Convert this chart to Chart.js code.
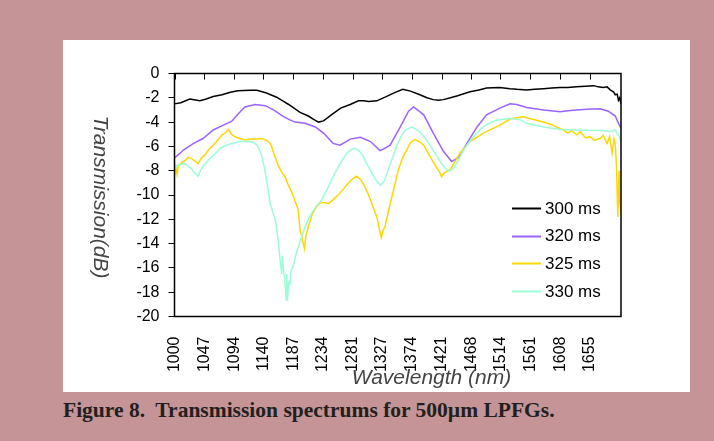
<!DOCTYPE html>
<html>
<head>
<meta charset="utf-8">
<script src="https://cdn.jsdelivr.net/npm/chart.js@4.4.1/dist/chart.umd.min.js"></script>
<style>
  html, body { margin: 0; padding: 0; }
  body { width: 714px; height: 441px; background: #c49496; position: relative; overflow: hidden; }
  #panel { position: absolute; left: 63px; top: 40px; width: 627px; height: 352px; background: #fff; }
  #caption { position: absolute; left: 63px; top: 398px; font: bold 21.5px "Liberation Serif", "Times New Roman", serif; color: #231f20; white-space: pre; }
</style>
</head>
<body>
<div id="panel"><canvas id="chart" width="627" height="352"></canvas></div>
<div id="caption">Figure 8.  Transmission spectrums for 500µm LPFGs.</div>
<script>
// Transmission spectra, 500um LPFG

const seriesLabels = ['300 ms', '320 ms', '325 ms', '330 ms'];
const seriesColors = ['#000000', '#9b63ff', '#ffd600', '#9bfcd6'];

const xTicks = [1000, 1047, 1094, 1140, 1187, 1234, 1281, 1327, 1374, 1421, 1468, 1514, 1561, 1608, 1655];

// 300 ms
const w300 = [1000,1010,1024,1040,1050,1061,1075,1088,1100,1109,1120,1130,1145,1161,1172,1180,1198,1211,1220,1227,
  1235,1250,1262,1277,1290,1298,1306,1319,1332,1348,1360,1372,1387,1398,1408,1416,1424,1435,1445,1466,
  1480,1492,1513,1529,1540,1555,1568,1582,1595,1608,1620,1634,1648,1661,1668,1676,1682,1687,1692,1695,
  1698,1700,1702,1704];
const t300 = [-2.5,-2.4,-2.1,-2.25,-2.1,-1.9,-1.75,-1.55,-1.42,-1.4,-1.38,-1.38,-1.6,-1.95,-2.3,-2.55,-3.2,-3.5,-3.8,-4.0,
  -3.9,-3.3,-2.85,-2.55,-2.25,-2.25,-2.3,-2.25,-1.95,-1.55,-1.3,-1.45,-1.75,-2.0,-2.15,-2.2,-2.15,-2.0,-1.85,-1.5,
  -1.35,-1.2,-1.15,-1.25,-1.3,-1.35,-1.3,-1.25,-1.2,-1.15,-1.15,-1.1,-1.05,-1.0,-1.1,-1.15,-1.1,-1.35,-1.5,-1.75,
  -1.7,-2.2,-2.0,-2.5];

// 320 ms
const w320 = [1000,1008,1014,1030,1045,1061,1077,1090,1101,1111,1127,1143,1156,1172,1181,1190,1206,1222,1235,1250,
  1261,1277,1293,1309,1318,1324,1330,1340,1356,1369,1377,1393,1408,1424,1437,1448,1461,1477,1492,1513,
  1529,1540,1555,1582,1608,1624,1650,1671,1684,1695,1700,1704];
const t320 = [-6.95,-6.6,-6.3,-5.75,-5.35,-4.65,-4.25,-3.95,-3.3,-2.75,-2.55,-2.65,-3.0,-3.55,-3.8,-4.0,-4.1,-4.4,-4.9,-5.75,
  -5.9,-5.4,-5.25,-5.6,-6.05,-6.35,-6.2,-5.9,-4.4,-3.1,-2.75,-3.4,-4.9,-6.4,-7.25,-6.9,-5.75,-4.4,-3.4,-2.85,
  -2.5,-2.55,-2.8,-3.0,-3.15,-3.05,-2.95,-2.9,-3.1,-3.5,-4.1,-4.5];

// 325 ms
const w325 = [1000,1002,1004,1006,1012,1017,1022,1027,1032,1037,1042,1048,1055,1061,1068,1075,1080,1085,1090,1095,
  1103,1111,1120,1130,1138,1145,1150,1153,1158,1164,1170,1174,1178,1185,1190,1195,1198,1201,1203,1205,
  1207,1211,1217,1224,1232,1243,1250,1258,1265,1271,1280,1287,1293,1300,1306,1311,1319,1323,1326,1329,
  1332,1337,1343,1348,1353,1360,1366,1372,1379,1386,1393,1403,1414,1418,1421,1425,1435,1443,1450,1466,
  1487,1513,1529,1540,1550,1560,1571,1592,1613,1620,1626,1634,1640,1648,1655,1662,1671,1676,1682,1686,
  1690,1693,1695,1697,1699,1701,1702,1704];
const t325 = [-8.4,-7.7,-8.3,-7.6,-7.3,-7.15,-6.9,-7.0,-7.2,-7.4,-7.0,-6.7,-6.2,-5.9,-5.5,-5.05,-4.9,-4.6,-5.0,-5.2,
  -5.35,-5.45,-5.4,-5.4,-5.35,-5.5,-5.7,-6.0,-6.8,-7.65,-8.2,-8.45,-9.0,-9.8,-10.5,-11.2,-12.9,-13.5,-14.0,-14.4,
  -13.4,-12.6,-11.6,-10.95,-10.6,-10.7,-10.4,-10.0,-9.6,-9.2,-8.7,-8.45,-8.7,-9.3,-10.0,-10.7,-11.8,-12.8,-13.5,-12.9,
  -12.6,-11.4,-10.1,-9.0,-7.9,-6.9,-6.3,-5.7,-5.45,-5.6,-5.9,-6.85,-7.8,-8.1,-8.5,-8.2,-7.9,-7.2,-6.55,-5.6,
  -4.9,-4.25,-3.75,-3.65,-3.55,-3.7,-3.85,-4.15,-4.65,-4.9,-4.7,-5.05,-4.8,-5.3,-5.2,-5.5,-5.35,-5.1,-5.75,-5.2,
  -6.55,-5.4,-5.9,-7.7,-11.8,-8.0,-10.5,-11.5];

// 330 ms
const w330 = [1000,1005,1009,1015,1022,1028,1032,1037,1041,1045,1052,1059,1066,1072,1080,1088,1095,1103,1111,1119,
  1125,1130,1134,1138,1142,1145,1148,1151,1155,1159,1163,1166,1169,1170,1172,1174,1176,1177,1178,1180,
  1182,1184,1187,1191,1195,1200,1206,1216,1224,1232,1240,1245,1252,1258,1265,1271,1278,1285,1292,1298,
  1305,1311,1318,1325,1331,1337,1344,1350,1356,1363,1374,1387,1395,1403,1411,1419,1429,1435,1440,1447,
  1453,1461,1469,1478,1487,1498,1508,1529,1545,1555,1582,1608,1634,1661,1676,1687,1695,1700,1704];
const t330 = [-7.95,-7.5,-7.5,-7.4,-7.65,-7.9,-8.2,-8.45,-8.0,-7.65,-7.2,-6.85,-6.5,-6.15,-5.95,-5.8,-5.7,-5.6,-5.6,-5.6,
  -5.7,-5.9,-6.3,-6.85,-7.8,-8.75,-9.7,-10.7,-11.4,-12.05,-13.5,-15.1,-16.5,-15.0,-16.2,-17.0,-18.6,-16.5,-18.7,-17.2,
  -17.3,-16.2,-15.9,-15.0,-14.3,-13.5,-12.6,-11.5,-10.9,-10.4,-9.6,-9.05,-8.3,-7.7,-7.1,-6.6,-6.25,-6.15,-6.4,-6.85,
  -7.6,-8.2,-8.8,-9.2,-8.8,-7.95,-6.9,-6.0,-5.3,-4.7,-4.4,-4.8,-5.3,-5.9,-6.6,-7.25,-7.95,-8.0,-7.8,-7.2,
  -6.55,-5.9,-5.35,-4.8,-4.4,-4.05,-3.85,-3.7,-3.8,-4.1,-4.4,-4.6,-4.65,-4.7,-4.7,-4.8,-4.65,-5.05,-5.6];

const FONT = '"Liberation Sans", Arial, sans-serif';
Chart.defaults.font.family = FONT;

function toPoints(w, t) {
  return w.map((x, i) => ({ x: x, y: t[i] }));
}

const allSeries = [[w300, t300], [w320, t320], [w325, t325], [w330, t330]];

// plot frame + inward tick marks along the top edge
const framePlugin = {
  id: 'frame',
  afterDatasetsDraw(chart) {
    const ctx = chart.ctx, a = chart.chartArea, xs = chart.scales.x;
    ctx.save();
    ctx.strokeStyle = '#000';
    ctx.lineWidth = 1.5;
    ctx.strokeRect(a.left, a.top, a.right - a.left, a.bottom - a.top);
    ctx.lineWidth = 1;
    xTicks.forEach(v => {
      const px = Math.round(xs.getPixelForValue(v)) + 0.5;
      ctx.beginPath();
      ctx.moveTo(px, a.top);
      ctx.lineTo(px, a.top + 6);
      ctx.stroke();
    });
    ctx.restore();
  }
};

// legend inside the plot area
const legendPlugin = {
  id: 'insideLegend',
  afterDraw(chart) {
    const ctx = chart.ctx;
    ctx.save();
    ctx.font = '17px ' + FONT;
    ctx.textBaseline = 'middle';
    chart.data.datasets.forEach((ds, i) => {
      const y = 168 + i * 27.7;
      ctx.strokeStyle = ds.borderColor;
      ctx.lineWidth = 2;
      ctx.beginPath();
      ctx.moveTo(449, Math.round(y) + 0.5);
      ctx.lineTo(478, Math.round(y) + 0.5);
      ctx.stroke();
      ctx.fillStyle = '#000';
      ctx.fillText(ds.label, 482, y + 1);
    });
    ctx.restore();
  }
};

// axis titles (y title reads top to bottom)
const titlePlugin = {
  id: 'axisTitles',
  afterDraw(chart) {
    const ctx = chart.ctx;
    ctx.save();
    ctx.fillStyle = '#444';
    ctx.font = 'italic 21px ' + FONT;
    ctx.textAlign = 'center';
    ctx.textBaseline = 'middle';
    ctx.fillText('Wavelength (nm)', 368.5, 338);
    ctx.translate(37, 157);
    ctx.rotate(Math.PI / 2);
    ctx.fillText('Transmission(dB)', 0, 0);
    ctx.restore();
  }
};

new Chart(document.getElementById('chart'), {
  type: 'line',
  data: {
    datasets: allSeries.map((s, i) => ({
      label: seriesLabels[i],
      data: toPoints(s[0], s[1]),
      borderColor: seriesColors[i],
      borderWidth: 1.5,
      pointRadius: 0,
      fill: false,
      tension: 0,
      order: 3 - i
    }))
  },
  options: {
    responsive: false,
    animation: false,
    devicePixelRatio: 1,
    layout: { padding: { top: 33.5, right: 69, bottom: 0, left: 0 } },
    plugins: { legend: { display: false }, tooltip: { enabled: false } },
    scales: {
      x: {
        type: 'linear',
        min: 1000,
        max: 1704,
        afterBuildTicks: s => { s.ticks = xTicks.map(v => ({ value: v })); },
        afterFit: s => { s.height = 75.5; },
        grid: { display: false },
        border: { display: false },
        ticks: {
          autoSkip: false, minRotation: 90, maxRotation: 90, padding: 12,
          color: '#000', font: { size: 16 },
          callback: v => String(v)
        }
      },
      y: {
        min: -20,
        max: 0,
        afterFit: s => { s.width = 111.5; },
        grid: { drawOnChartArea: false, tickLength: 6, color: '#000' },
        border: { display: false },
        ticks: { stepSize: 2, padding: 9, color: '#000', font: { size: 16 } }
      }
    }
  },
  plugins: [framePlugin, legendPlugin, titlePlugin]
});
</script>
</body>
</html>
